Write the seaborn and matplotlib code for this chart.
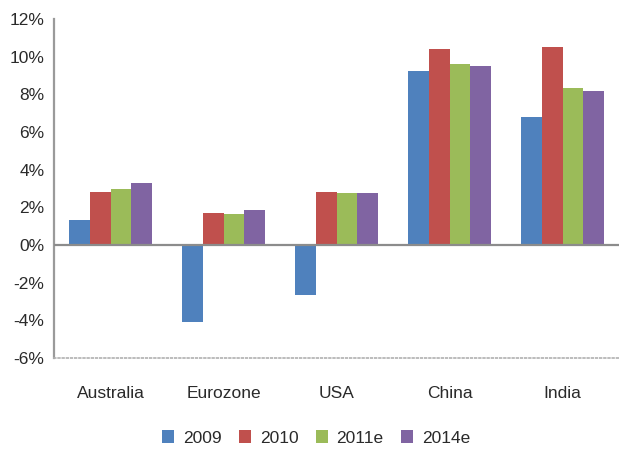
import matplotlib
matplotlib.use('Agg')
import matplotlib.pyplot as plt
import seaborn as sns
import pandas as pd

regions = ['Australia', 'Eurozone', 'USA', 'China', 'India']
years = ['2009', '2010', '2011e', '2014e']
growth_2009 = [1.35, -4.1, -2.65, 9.25, 6.8]
growth_2010 = [2.8, 1.7, 2.8, 10.4, 10.5]
growth_2011e = [3.0, 1.65, 2.75, 9.6, 8.35]
growth_2014e = [3.3, 1.85, 2.75, 9.5, 8.2]
colors = ['#4F81BD', '#C0504D', '#9BBB59', '#8064A2']
y_ticks = [-6, -4, -2, 0, 2, 4, 6, 8, 10, 12]

# long format for seaborn
rows = []
for year, vals in zip(years, [growth_2009, growth_2010, growth_2011e, growth_2014e]):
    for region, v in zip(regions, vals):
        rows.append({'region': region, 'year': year, 'value': v})
df = pd.DataFrame(rows)

sns.set_style('white')
plt.rcParams['font.family'] = ['Liberation Sans', 'DejaVu Sans']

fig = plt.figure(figsize=(6.19, 4.5), dpi=100)
ax = fig.add_axes([54 / 619, 1 - 358 / 450, 1 - 54 / 619, (358 - 19) / 450])

sns.barplot(data=df, x='region', y='value', hue='year', order=regions,
            hue_order=years, palette=colors, saturation=1, width=0.73,
            errorbar=None, linewidth=0, ax=ax)

ax.set_xlim(-0.5, 4.5)
ax.set_ylim(-6, 12)
ax.set_yticks(y_ticks)
ax.set_yticklabels([f'{t}%' for t in y_ticks])
ax.set_xlabel('')
ax.set_ylabel('')
ax.tick_params(axis='both', length=0, labelsize=12.5, colors='#2a2a2a')
ax.tick_params(axis='y', pad=7)
ax.tick_params(axis='x', pad=20)

ax.axhline(0, color='#8c8c8c', lw=1.6, zorder=3)
for side in ['top', 'right']:
    ax.spines[side].set_visible(False)
ax.spines['left'].set_color('#9a9a9a')
ax.spines['left'].set_linewidth(1.6)
ax.spines['bottom'].set_color('#b0b0b0')
ax.spines['bottom'].set_linestyle((0, (1, 1.5)))
ax.spines['bottom'].set_linewidth(1.2)

handles, labels = ax.get_legend_handles_labels()
ax.get_legend().remove()
fig.legend(handles, labels, loc='center', bbox_to_anchor=(316 / 619, 1 - 438 / 450),
           ncol=4, frameon=False, fontsize=12.5, handlelength=0.7, handleheight=0.7,
           handletextpad=0.5, columnspacing=1.0, labelcolor='#2a2a2a')

fig.savefig('out.png', dpi=100)
